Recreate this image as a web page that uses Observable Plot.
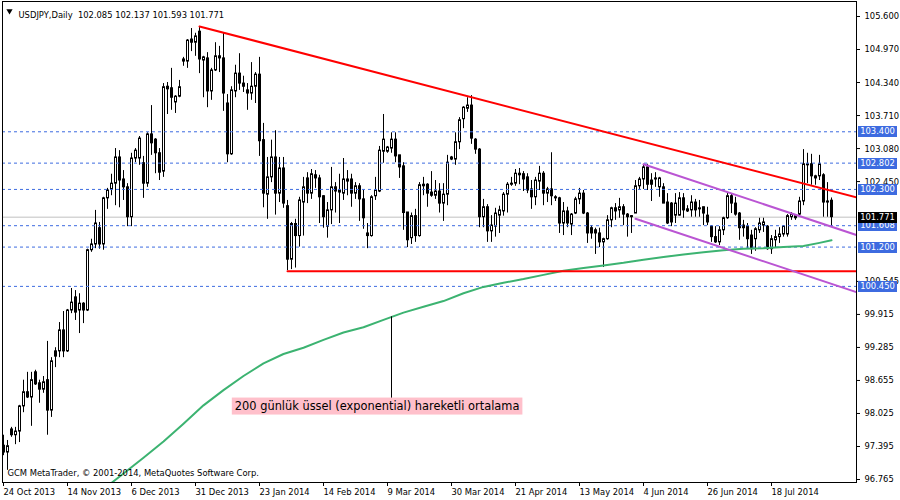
<!DOCTYPE html>
<html><head><meta charset="utf-8">
<script src="https://cdn.jsdelivr.net/npm/d3@7"></script>
<script src="https://cdn.jsdelivr.net/npm/@observablehq/plot@0.6"></script>
<style>
html,body{margin:0;padding:0;background:#fff;}
#chart{width:900px;height:500px;}
</style></head><body><div id="chart"></div>
<script>
// ---- OHLC data (daily bars, index 0 = 24 Oct 2013) ----
const opens = [97.41,97.28,97.72,97.61,97.68,98.16,98.43,98.33,98.81,98.60,98.48,98.66,98.08,99.21,99.21,99.61,99.21,99.99,100.24,99.99,
100.12,99.99,101.14,101.25,101.56,101.25,102.13,102.30,102.41,102.91,102.49,102.34,101.77,102.89,102.89,102.80,102.41,103.35,103.25,102.99,
102.64,104.26,104.23,103.96,104.07,104.78,104.74,105.16,105.10,105.31,104.76,104.80,104.17,104.57,104.84,104.80,103.94,102.97,104.17,104.51,
104.32,104.19,104.13,104.26,104.49,103.24,102.20,102.53,102.91,102.22,102.70,101.98,100.96,101.64,101.41,102.05,102.51,102.22,102.57,102.51,
102.17,101.59,101.90,102.34,102.24,102.22,102.49,102.49,102.22,102.36,102.11,101.46,101.41,102.17,102.26,103.02,103.02,103.08,103.25,102.95,
102.74,101.86,101.37,101.79,101.41,102.39,102.39,102.24,102.18,102.26,102.03,102.20,102.91,102.87,103.20,103.64,103.84,103.90,103.25,103.06,
101.77,101.96,101.50,101.59,101.80,101.88,102.20,102.39,102.41,102.60,102.59,102.53,102.30,102.15,102.45,102.60,102.22,102.30,102.15,102.13,
101.65,101.88,101.63,101.84,102.11,102.22,101.84,101.56,101.52,101.46,101.29,101.35,101.71,101.94,101.90,101.96,101.82,101.79,101.84,102.36,
102.49,102.72,102.47,102.51,102.34,102.34,102.05,102.03,101.80,101.80,102.13,101.92,101.90,102.05,101.92,101.96,101.80,101.59,101.39,101.29,
101.52,101.75,102.17,102.03,101.84,101.61,101.59,101.42,101.35,101.52,101.61,101.59,101.16,101.33,101.39,101.44,101.44,101.77,101.75,101.82,
102.07,102.76,102.78,102.51,102.55,102.57,102.07,102.085];
const highs = [97.61,97.51,97.76,97.76,98.18,98.66,98.81,98.81,98.85,98.66,98.73,99.40,99.09,99.28,99.76,99.97,100.01,100.41,100.37,100.31,
100.14,101.16,101.35,101.90,101.67,102.15,102.32,102.59,103.08,103.04,102.66,102.41,102.99,103.08,103.31,102.93,103.38,103.90,103.27,103.08,
104.32,104.34,104.61,104.09,104.38,104.82,105.16,105.37,105.28,105.41,104.84,104.91,104.61,105.10,105.03,105.29,104.11,104.26,104.67,104.89,
104.46,104.32,104.72,104.53,104.82,103.56,102.91,103.24,103.42,102.91,102.91,102.09,101.67,101.73,102.15,102.53,102.62,102.68,102.66,102.57,
102.18,102.05,102.72,102.43,102.59,102.89,102.66,102.59,102.43,102.41,102.28,101.65,102.18,102.53,103.12,103.73,103.12,103.38,103.38,102.95,
102.81,101.86,101.85,101.92,102.43,102.53,102.41,102.64,102.47,102.41,102.41,102.95,102.93,103.38,103.67,103.88,104.05,104.09,103.27,103.08,
102.11,102.01,101.80,101.94,101.98,102.24,102.43,102.53,102.68,102.70,102.64,102.60,102.47,102.53,102.74,102.64,102.34,103.00,102.18,102.15,
102.05,101.96,101.84,102.15,102.32,102.28,101.86,101.61,101.56,101.56,101.37,101.80,101.96,102.03,102.13,102.01,101.84,101.80,102.47,102.53,
102.78,102.78,102.60,102.62,102.53,102.41,102.22,102.05,102.22,102.24,102.22,101.99,102.18,102.11,102.09,101.96,101.96,101.61,101.59,101.59,
101.77,102.24,102.22,102.15,101.86,101.71,101.65,101.52,101.57,101.75,101.75,101.61,101.42,101.52,101.57,101.61,101.82,101.86,101.82,102.15,
103.06,102.99,102.97,102.57,102.95,102.60,102.43,102.137];
const lows = [97.22,96.94,97.57,97.43,97.47,98.04,98.31,97.78,98.56,98.22,98.41,97.61,97.95,98.90,99.09,99.09,99.19,99.93,99.80,99.55,
99.74,99.97,101.10,101.17,101.16,101.14,101.92,102.18,101.99,101.95,102.09,101.59,101.59,102.81,102.76,102.13,102.34,102.95,102.60,102.47,
102.53,103.73,103.81,103.75,104.05,104.65,104.61,104.93,104.84,104.51,104.05,103.86,104.00,104.55,104.53,103.79,102.81,102.95,104.05,104.19,
104.15,103.81,104.00,103.94,102.93,101.95,101.73,102.43,101.81,102.05,101.94,100.75,100.77,100.80,101.20,101.41,102.03,102.11,102.32,101.65,
101.56,101.37,101.63,101.85,101.65,102.09,102.18,101.96,102.11,101.69,101.54,101.17,101.39,102.09,102.24,102.80,102.99,102.99,102.81,102.51,
101.52,101.19,101.25,101.29,101.39,102.18,101.96,102.15,102.11,101.85,101.69,101.99,102.85,102.76,103.06,103.46,103.77,103.16,102.97,101.57,
101.57,101.29,101.29,101.39,101.46,101.79,101.85,102.36,102.36,102.39,102.26,102.22,101.92,101.99,102.28,101.99,102.05,101.99,102.07,101.46,
101.42,101.57,101.42,101.82,102.01,101.82,101.27,101.35,101.06,101.19,100.81,101.33,101.57,101.71,101.75,101.61,101.39,101.46,101.84,102.30,
102.30,102.28,102.07,102.34,102.15,102.03,101.63,101.59,101.65,101.79,101.75,101.86,101.77,101.77,101.77,101.61,101.61,101.29,101.27,101.23,
101.42,101.73,101.84,101.79,101.33,101.39,101.17,101.06,101.12,101.46,101.48,101.14,101.06,101.18,101.27,101.39,101.39,101.71,101.71,101.80,
101.99,102.41,102.38,102.38,102.47,101.77,101.77,101.593];
const closes = [97.28,97.40,97.61,97.68,98.16,98.43,98.33,98.66,98.58,98.48,98.62,98.08,99.02,99.11,99.61,99.21,99.99,100.14,99.95,100.12,
99.99,101.14,101.25,101.65,101.25,102.13,102.28,102.41,102.91,102.47,102.34,101.77,102.89,103.04,103.27,102.41,103.35,103.18,102.99,102.62,
104.25,104.21,104.05,104.07,104.25,104.74,105.14,105.10,105.22,104.78,104.82,104.17,104.57,104.84,104.80,104.13,102.97,104.19,104.51,104.32,
104.26,104.13,104.26,104.49,103.22,102.22,102.53,102.91,102.22,102.70,102.03,100.96,101.64,101.41,102.09,102.34,102.22,102.59,102.51,102.15,
101.77,101.90,102.34,102.26,102.28,102.49,102.45,102.22,102.36,102.11,101.75,101.41,102.15,102.28,103.04,103.25,103.10,103.25,102.93,102.72,
101.85,101.33,101.79,101.41,102.38,102.36,102.22,102.18,102.26,102.03,102.20,102.81,102.87,103.20,103.62,103.86,103.90,103.27,103.06,101.77,
101.96,101.50,101.61,101.84,101.90,102.20,102.39,102.41,102.60,102.57,102.49,102.28,102.15,102.47,102.60,102.22,102.30,102.17,102.13,101.65,
101.88,101.65,101.82,102.11,102.22,101.84,101.46,101.46,101.46,101.29,101.35,101.71,101.94,101.88,101.96,101.82,101.77,101.77,102.36,102.49,
102.72,102.39,102.39,102.49,102.51,102.03,101.65,101.67,102.03,102.13,101.90,101.88,102.05,101.90,101.94,101.84,101.67,101.39,101.29,101.52,
101.75,102.17,102.03,101.82,101.56,101.56,101.35,101.16,101.54,101.65,101.67,101.16,101.35,101.39,101.44,101.59,101.79,101.82,101.79,102.07,
102.78,102.78,102.55,102.55,102.78,102.05,102.05,101.771];

// ---- date tick labels (bar index -> label) ----
const dateIdx = [0,16,32,48,64,80,96,112,128,144,160,176,192];
const dateLabels = ["24 Oct 2013","14 Nov 2013","6 Dec 2013","31 Dec 2013","23 Jan 2014","14 Feb 2014","9 Mar 2014",
  "30 Mar 2014","21 Apr 2014","13 May 2014","4 Jun 2014","26 Jun 2014","18 Jul 2014"];

// ---- price axis ticks ----
const priceTicks = [105.600,104.970,104.340,103.710,103.080,102.450,100.545,99.915,99.285,98.655,98.025,97.395,96.765];

// ---- horizontal levels and bid ----
const levels = [103.400,102.802,102.300,101.608,101.200,100.450];
const bid = 101.771;

// ---- 200-day EMA ----
const maIdx = [26,27,30,35,40,45,50,55,60,65,70,75,80,85,90,95,100,105,110,115,120,125,130,135,140,145,150,155,160,165,170,175,180,185,190,195,200,204,207];
const maVal = [96.64,96.70,96.88,97.18,97.49,97.83,98.18,98.47,98.74,98.98,99.16,99.28,99.43,99.57,99.67,99.81,99.95,100.06,100.17,100.32,100.44,100.52,100.59,100.67,100.75,100.80,100.85,100.90,100.96,101.01,101.06,101.10,101.14,101.17,101.18,101.20,101.22,101.28,101.33];

// ---- trend lines (anchor points: bar index, price) ----
const redTrendIdx = [49, 213.25], redTrendVal = [105.41, 102.15];
const redFloorIdx = [71, 213.25], redFloorVal = [100.74, 100.74];
const purpleUpIdx = [160, 213.25], purpleUpVal = [102.78, 101.43];
const purpleLoIdx = [158, 213.25], purpleLoVal = [101.74, 100.34];

// ---- texts ----
const symbolTitle = "USDJPY,Daily";
const lastOHLC = ["102.085","102.137","101.593","101.771"];
const copyright = "GCM MetaTrader, \u00a9 2001-2014, MetaQuotes Software Corp.";
const annoText = "200 günlük üssel (exponential) hareketli ortalama";
const annoIdx = 93.4, annoVal = 98.16, annoPtrIdx = 97, annoPtrTop = 99.87, annoPtrBottom = 98.31;

// ---- build ----
const FONT = "'DejaVu Sans Condensed','Liberation Sans',sans-serif";
const candles = opens.map((o, i) => ({i, open: o, high: highs[i], low: lows[i], close: closes[i]}));
const bull = candles.filter(d => d.close >= d.open);
const bear = candles.filter(d => d.close < d.open);
const seg = (idx, val) => idx.map((i, k) => ({i, p: val[k]}));
// body spans 3 pixel columns around the wick (1 bar = 4 px)
const bx1 = d => d.i - 0.125, bx2 = d => d.i + 0.375;

const plot = Plot.plot({
  width: 900, height: 500,
  marginLeft: 2, marginRight: 44, marginTop: 1, marginBottom: 18,
  style: {fontFamily: FONT, fontSize: "9.3px", background: "#fff", color: "#000", overflow: "visible"},
  x: {domain: [-0.25, 213.25]},
  y: {domain: [96.708, 105.886]},
  marks: [
    Plot.ruleY([bid], {stroke: "#c0c0c0"}),
    Plot.ruleX(candles, {x: "i", y1: "low", y2: "high", stroke: "#000"}),
    Plot.rect(bull, {x1: bx1, x2: bx2, y1: "open", y2: "close", fill: "#fff", stroke: "#000"}),
    Plot.rect(bear, {x1: bx1, x2: bx2, y1: "open", y2: "close", fill: "#000", stroke: "#000"}),
    Plot.ruleY(levels, {stroke: "#3d6be0", strokeDasharray: "3,3"}),
    Plot.line(seg(maIdx, maVal), {x: "i", y: "p", stroke: "#3cb371", strokeWidth: 2, clip: true}),
    Plot.line(seg(redFloorIdx, redFloorVal), {x: "i", y: "p", stroke: "#ff0000", strokeWidth: 2, clip: true}),
    Plot.line(seg(redTrendIdx, redTrendVal), {x: "i", y: "p", stroke: "#ff0000", strokeWidth: 2, clip: true}),
    Plot.line(seg(purpleUpIdx, purpleUpVal), {x: "i", y: "p", stroke: "#ba55d3", strokeWidth: 2, clip: true}),
    Plot.line(seg(purpleLoIdx, purpleLoVal), {x: "i", y: "p", stroke: "#ba55d3", strokeWidth: 2, clip: true}),
    Plot.ruleX([{i: annoPtrIdx, top: annoPtrTop, bot: annoPtrBottom}], {x: "i", y1: "top", y2: "bot", stroke: "#000"}),
    Plot.text([{i: annoIdx, p: annoVal, t: annoText}], {x: "i", y: "p", text: "t", fontFamily: "DejaVu Sans", fontSize: 11.4, fill: "#000"}),
    Plot.frame({stroke: "#000"}),
    Plot.axisX({ticks: dateIdx, tickFormat: d => dateLabels[dateIdx.indexOf(d)], tickSize: 4, tickPadding: 2, textAnchor: "start", label: null}),
    Plot.axisY({anchor: "right", ticks: priceTicks, tickFormat: d => d.toFixed(3), tickSize: 3, tickPadding: 5, label: null}),
    Plot.dot([0], {frameAnchor: "top-left", dx: 7, dy: 9.5, symbol: "triangle", r: 2.3, rotate: 180, fill: "#000", stroke: null}),
    Plot.text([{t: symbolTitle + "\u00a0\u00a0" + lastOHLC.join(" ")}], {frameAnchor: "top-left", dx: 16, dy: 10, textAnchor: "start", text: "t", fill: "#000"}),
    Plot.text([{t: copyright}], {frameAnchor: "bottom-left", dx: 5, dy: -7, textAnchor: "start", text: "t", fill: "#000"})
  ]
});
document.getElementById("chart").appendChild(plot);

const svg = d3.select(plot);

// annotation background (pink label)
svg.selectAll("text").each(function() {
  if (this.textContent === annoText) {
    const bb = this.getBBox();
    const r = d3.select(this.parentNode).insert("rect", () => this)
      .attr("x", bb.x - 3).attr("y", bb.y - 1.5)
      .attr("width", bb.width + 6).attr("height", bb.height + 3)
      .attr("fill", "#ffc0cb");
    const tr = this.getAttribute("transform");
    if (tr) r.attr("transform", tr);
  }
});

// price label boxes on the right axis
const ys = plot.scale("y");
const tags = levels.map(v => ({v, bg: "#3d6be0"})).concat([{v: bid, bg: "#000"}]);
const gt = svg.append("g").attr("font-family", FONT).attr("font-size", "9.3px");
tags.forEach(t => {
  const y = Math.round(ys.apply(t.v));
  gt.append("rect").attr("x", 858).attr("y", y - 5).attr("width", 39).attr("height", 11).attr("fill", t.bg);
  gt.append("text").attr("x", 877.5).attr("y", y + 0.5).attr("text-anchor", "middle")
    .attr("dy", "0.32em").attr("fill", "#fff").text(t.v.toFixed(3));
});
</script></body></html>
